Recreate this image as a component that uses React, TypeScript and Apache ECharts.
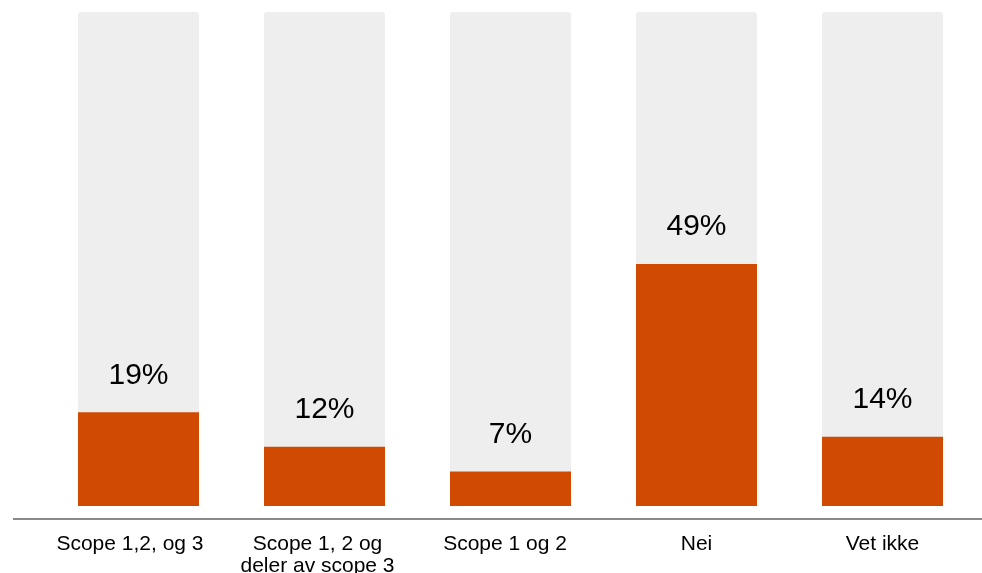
import React, { useEffect, useRef } from "react";
import * as echarts from "echarts";

const categories = ["Scope 1,2, og 3", "Scope 1, 2 og\ndeler av scope 3", "Scope 1 og 2", "Nei", "Vet ikke"];
const labelShift = [17, 14, 11, 0, 0];
const values = [19, 12, 7, 49, 14];
const backgroundValues = [100, 100, 100, 100, 100];

export default function App() {
  const ref = useRef<HTMLDivElement>(null);
  useEffect(() => {
    if (!ref.current) return;
    const chart = echarts.init(ref.current, null, { renderer: "svg" });
    chart.setOption({
      animation: false,
      textStyle: { fontFamily: "Liberation Sans, Arial, sans-serif" },
      grid: { left: 45.5, right: 6.5, top: 12, bottom: 54, containLabel: false, outerBoundsMode: "none" },
      xAxis: {
        type: "category",
        data: categories.map((c, i) => ({ value: c, textStyle: { padding: [0, labelShift[i], 0, 0] } })),
        axisLine: { show: false },
        axisTick: { show: false },
        axisLabel: { color: "#000", fontSize: 21, lineHeight: 22, margin: 12, interval: 0 },
      },
      yAxis: {
        type: "value",
        min: -2.6316,
        max: 100,
        show: false,
        splitLine: { show: false },
      },
      graphic: [
        {
          type: "line",
          shape: { x1: 13, y1: 519, x2: 982, y2: 519 },
          style: { stroke: "#8a8a8a", lineWidth: 2 },
          silent: true,
        },
      ],
      series: [
        {
          type: "bar",
          data: backgroundValues,
          barWidth: 121,
          barGap: "-100%",
          itemStyle: { color: "#eeeeee", borderRadius: [3, 3, 0, 0] },
          silent: true,
          z: 1,
        },
        {
          type: "bar",
          data: values,
          barWidth: 121,
          itemStyle: { color: "#d04a02" },
          label: {
            show: true,
            position: "top",
            distance: 24,
            formatter: "{c}%",
            fontSize: 30,
            color: "#000",
          },
          z: 2,
        },
      ],
    });
    return () => chart.dispose();
  }, []);
  return <div ref={ref} style={{ position: "fixed", left: 0, top: 0, width: 982, height: 573 }} />;
}
